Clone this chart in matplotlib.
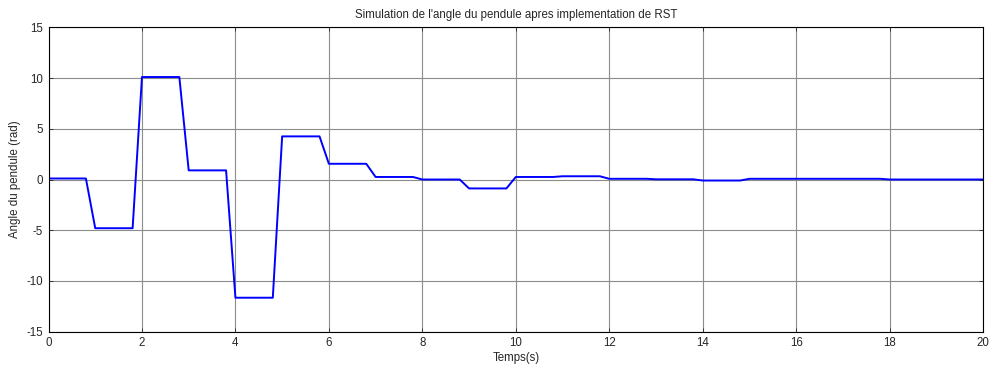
import matplotlib
matplotlib.use('Agg')
import matplotlib.pyplot as plt

temps = [0, 0.8, 1, 1.8, 2, 2.8, 3, 3.8, 4, 4.8, 5, 5.8, 6, 6.8, 7, 7.8,
         8, 8.8, 9, 9.8, 10, 10.8, 11, 11.8, 12, 12.8, 13, 13.8, 14, 14.8,
         15, 17.8, 18, 20]
angle = [0.1, 0.1, -4.8, -4.8, 10.1, 10.1, 0.9, 0.9, -11.65, -11.65,
         4.25, 4.25, 1.55, 1.55, 0.25, 0.25, 0.0, 0.0, -0.88, -0.88,
         0.25, 0.25, 0.32, 0.32, 0.07, 0.07, 0.02, 0.02, -0.1, -0.1,
         0.07, 0.07, 0.0, 0.0]

xticks = list(range(0, 21, 2))
yticks = list(range(-15, 16, 5))

plt.rcParams['font.family'] = ['Liberation Sans', 'DejaVu Sans']
plt.rcParams['axes.unicode_minus'] = False

fig = plt.figure(figsize=(9.9, 3.65), dpi=100)
ax = fig.add_axes([0.049, 0.0912, 0.944, 0.834])

ax.plot(temps, angle, color='#0000ff', lw=1.4)

ax.set_xlim(0, 20)
ax.set_ylim(-15, 15)
ax.set_xticks(xticks)
ax.set_yticks(yticks)
ax.grid(True, color='#8c8c8c', lw=0.8, ls='-')
ax.tick_params(direction='in', top=True, right=True, labelsize=8.3,
               length=3, width=0.6, pad=4, colors='#262626')
for s in ax.spines.values():
    s.set_linewidth(0.8)

ax.set_title("Simulation de l'angle du pendule apres implementation de RST",
             fontsize=8.3, pad=7, color='#262626')
ax.set_xlabel('Temps(s)', fontsize=8.3, labelpad=2, color='#262626')
ax.set_ylabel('Angle du pendule (rad)', fontsize=8.3, labelpad=4, color='#262626')

plt.savefig('out.png', dpi=100)
